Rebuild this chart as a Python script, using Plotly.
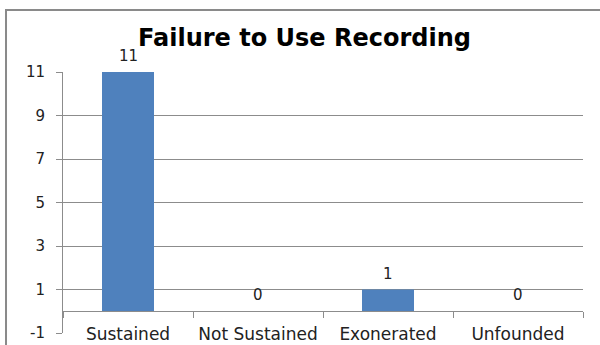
import plotly.graph_objects as go

categories = ["Sustained", "Not Sustained", "Exonerated", "Unfounded"]
values = [11, 0, 1, 0]
y_ticks = [-1, 1, 3, 5, 7, 9, 11]
y_tick_text = ["-1", "1", "3", "5", "7", "9", "11"]
title_text = "Failure to Use Recording"

GRID = "#8c8c8c"
BAR = "#4f81bd"

fig = go.Figure()
fig.add_trace(go.Bar(x=categories, y=values, marker=dict(color=BAR, line=dict(width=0)),
                     hoverinfo="skip"))

for c, v in zip(categories, values):
    fig.add_annotation(x=c, y=v, text=str(v), showarrow=False, yanchor="bottom",
                       yshift=5, font=dict(family="DejaVu Sans", size=15, color="#222222"))

# outer chart border
fig.add_shape(type="rect", xref="paper", yref="paper", x0=-0.1096, x1=1.2, y0=-0.2, y1=1.2375,
              line=dict(color="#8a8a8a", width=2), fillcolor="rgba(0,0,0,0)", layer="below")

fig.update_layout(
    width=600, height=345,
    margin=dict(l=63, r=17, t=72, b=12),
    paper_bgcolor="white", plot_bgcolor="white",
    bargap=0.6,
    showlegend=False,
    title=dict(text="<b>" + title_text + "</b>", x=0.5075, xanchor="center", y=0.89, yanchor="middle",
               font=dict(family="DejaVu Sans", size=24, color="black")),
    xaxis=dict(type="category", anchor="free", position=1/12, showline=True, linecolor=GRID,
               linewidth=1, ticks="outside", tickson="boundaries", ticklen=6, tickcolor=GRID,
               showgrid=False, ticklabelstandoff=7, automargin=False,
               tickfont=dict(family="DejaVu Sans", size=17, color="#222222")),
    yaxis=dict(range=[-1, 11], tickvals=y_ticks, ticktext=y_tick_text, showgrid=True,
               gridcolor=GRID, gridwidth=1, automargin=False,
               zeroline=False, showline=True, linecolor=GRID, linewidth=1, ticks="outside",
               ticklen=6, tickcolor=GRID, ticklabelstandoff=8,
               tickfont=dict(family="DejaVu Sans", size=15, color="#222222")),
)

fig.write_html("out.html")
